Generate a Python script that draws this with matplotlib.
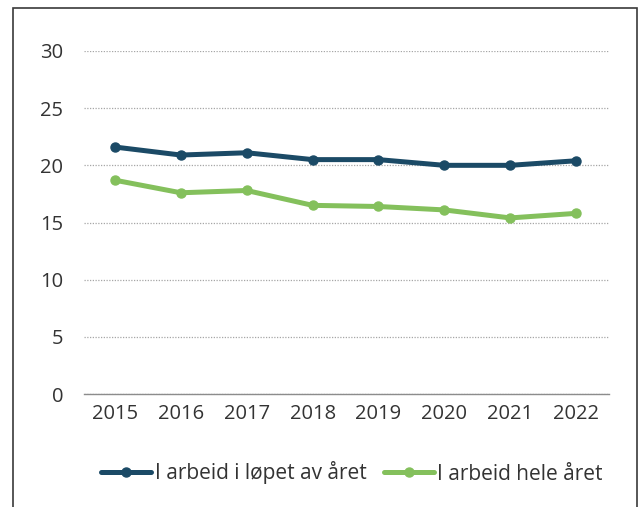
import matplotlib
matplotlib.use("Agg")
import matplotlib.pyplot as plt
from matplotlib.patches import Rectangle

years = ["2015", "2016", "2017", "2018", "2019", "2020", "2021", "2022"]
i_lopet = [21.6, 20.9, 21.1, 20.5, 20.5, 20.0, 20.0, 20.4]
hele_aret = [18.7, 17.6, 17.8, 16.5, 16.4, 16.1, 15.4, 15.8]
yticks = [0, 5, 10, 15, 20, 25, 30]

plt.rcParams['font.family'] = ['Open Sans', 'DejaVu Sans']
fig = plt.figure(figsize=(6.39, 5.07), dpi=100)
ax = fig.add_axes([84/639, 1-394/507, (609-84)/639, (394-51)/507])

x = list(range(len(years)))
ax.plot(x, i_lopet, color="#1b4a66", lw=3.6, marker="o", ms=6.5, solid_capstyle="round",
        label="I arbeid i løpet av året", zorder=3)
ax.plot(x, hele_aret, color="#84c05c", lw=3.6, marker="o", ms=6.5, solid_capstyle="round",
        label="I arbeid hele året", zorder=3)

ax.set_xlim(-0.47, len(years)-0.5)
ax.set_ylim(0, 30)
ax.set_yticks(yticks)
ax.set_xticks(x)
ax.set_xticklabels(years)
for s in ["top", "right", "left"]:
    ax.spines[s].set_visible(False)
ax.spines["bottom"].set_color("#8c8c8c")
ax.spines["bottom"].set_linewidth(1)
ax.grid(axis="y", color="#a6a6a6", ls=(0, (1, 1.2)), lw=0.9)
ax.set_axisbelow(True)
ax.tick_params(axis="both", length=0, labelsize=14.5, colors="#333333")
ax.tick_params(axis="x", pad=7)
ax.tick_params(axis="y", pad=15)

leg = fig.legend(loc="center", bbox_to_anchor=(352/639, 1-473/507), ncol=2, frameon=False,
                 fontsize=15, handlelength=2.4, columnspacing=0.85, handletextpad=0.15,
                 labelcolor="#333333")

fig.patches.append(Rectangle((13/639, -0.05), (637-13)/639, 1.05-8/507, transform=fig.transFigure,
                             fill=False, edgecolor="#3a3a3a", lw=1.2))
fig.savefig("out.png", dpi=100)
